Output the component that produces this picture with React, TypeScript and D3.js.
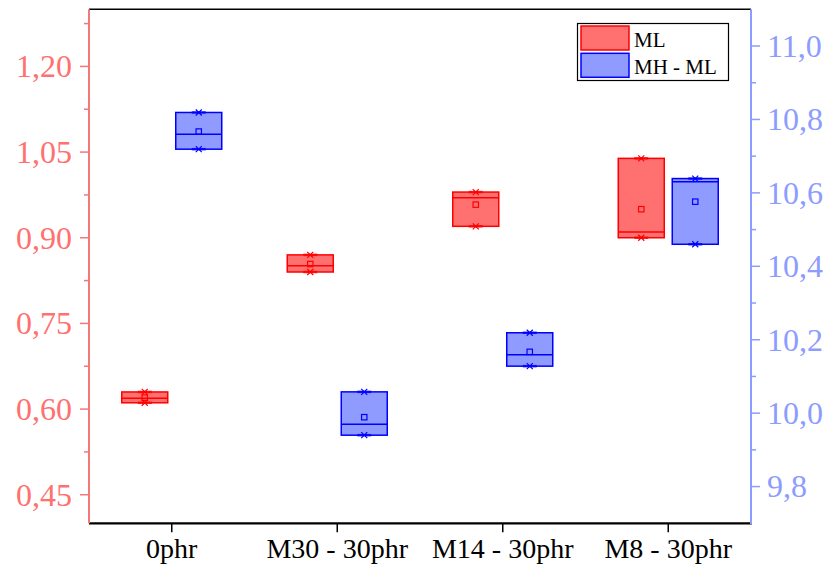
import { useRef, useEffect } from 'react';
import * as d3 from 'd3';

// categories and box statistics
const categories = ['0phr', 'M30 - 30phr', 'M14 - 30phr', 'M8 - 30phr'];

// ML (left axis)
const mlQ1 = [0.611, 0.840, 0.920, 0.900];
const mlMedian = [0.619, 0.851, 0.970, 0.910];
const mlQ3 = [0.630, 0.870, 0.980, 1.039];
const mlMean = [0.620, 0.854, 0.958, 0.950];
const mlMin = [0.611, 0.840, 0.920, 0.900];
const mlMax = [0.630, 0.870, 0.980, 1.039];

// MH - ML (right axis)
const dQ1 = [10.719, 9.940, 10.128, 10.460];
const dMedian = [10.760, 9.970, 10.159, 10.630];
const dQ3 = [10.819, 10.058, 10.219, 10.639];
const dMean = [10.767, 9.989, 10.167, 10.576];
const dMin = [10.719, 9.940, 10.128, 10.460];
const dMax = [10.819, 10.058, 10.219, 10.639];

const leftTicks = [0.45, 0.60, 0.75, 0.90, 1.05, 1.20];
const leftMinor = [0.525, 0.675, 0.825, 0.975, 1.125, 1.275];
const rightTicks = [9.8, 10.0, 10.2, 10.4, 10.6, 10.8, 11.0];
const rightMinor = [9.9, 10.1, 10.3, 10.5, 10.7, 10.9];

const W = 830;
const H = 571;
const FONT = '"Liberation Serif", "Times New Roman", serif';
const LEFT_C = '#FF7070';
const RIGHT_C = '#8C9CFF';

const comma = d3.formatLocale({ decimal: ',', thousands: '.', grouping: [3], currency: ['', ''] });

export default function App() {
  const svgRef = useRef<SVGSVGElement | null>(null);

  useEffect(() => {
    if (!svgRef.current) return;
    const svg = d3.select(svgRef.current);
    svg.selectAll('*').remove();

    const m = { top: 9.3, right: 79, bottom: 47.7, left: 89 };
    const x0 = m.left, x1 = W - m.right;
    const y0 = H - m.bottom, y1 = m.top;

    const x = d3.scaleBand().domain(categories).range([x0, x1]);
    const sub = d3.scaleBand().domain(['ML', 'MH']).range([x.bandwidth() / 2 - 50, x.bandwidth() / 2 + 50]).paddingInner(0.148);
    const yL = d3.scaleLinear().domain([0.40, 1.30]).range([y0, y1]);
    const yR = d3.scaleLinear().domain([9.7, 11.1]).range([y0, y1]);

    const series = [
      { key: 'ML', y: yL, q1: mlQ1, med: mlMedian, q3: mlQ3, mean: mlMean, min: mlMin, max: mlMax, fill: '#FF7070', stroke: '#FF0000' },
      { key: 'MH', y: yR, q1: dQ1, med: dMedian, q3: dQ3, mean: dMean, min: dMin, max: dMax, fill: '#8F9BFF', stroke: '#0000FF' },
    ];

    // boxes
    series.forEach(s => {
      categories.forEach((c, i) => {
        const bx = (x(c) as number) + (sub(s.key) as number);
        const bw = sub.bandwidth();
        const cx = bx + bw / 2;
        const g = svg.append('g');
        g.append('rect')
          .attr('x', bx)
          .attr('y', s.y(s.q3[i]))
          .attr('width', bw)
          .attr('height', s.y(s.q1[i]) - s.y(s.q3[i]))
          .attr('fill', s.fill)
          .attr('stroke', s.stroke)
          .attr('stroke-width', 1.5);
        g.append('line')
          .attr('x1', bx).attr('x2', bx + bw)
          .attr('y1', s.y(s.med[i])).attr('y2', s.y(s.med[i]))
          .attr('stroke', s.stroke).attr('stroke-width', 1.5);
        // min / max dashes and 1%/99% crosses
        [s.min[i], s.max[i]].forEach(v => {
          const yy = s.y(v);
          g.append('line')
            .attr('x1', cx - 7).attr('x2', cx + 7)
            .attr('y1', yy).attr('y2', yy)
            .attr('stroke', s.stroke).attr('stroke-width', 2.5).attr('opacity', 0.8);
          g.append('path')
            .attr('d', `M${cx - 3},${yy - 3}L${cx + 3},${yy + 3}M${cx - 3},${yy + 3}L${cx + 3},${yy - 3}`)
            .attr('stroke', s.stroke).attr('stroke-width', 1.2).attr('fill', 'none');
        });
        // mean
        g.append('rect')
          .attr('x', cx - 2.7).attr('y', s.y(s.mean[i]) - 2.7)
          .attr('width', 5.4).attr('height', 5.4)
          .attr('fill', 'none').attr('stroke', s.stroke).attr('stroke-width', 1.2);
      });
    });

    // frame: top and bottom black
    svg.append('line').attr('x1', x0).attr('x2', x1).attr('y1', y1).attr('y2', y1)
      .attr('stroke', '#000').attr('stroke-width', 1.5);
    svg.append('line').attr('x1', x0).attr('x2', x1 + 1).attr('y1', y0).attr('y2', y0)
      .attr('stroke', '#000').attr('stroke-width', 2.2);

    // bottom axis ticks and labels
    categories.forEach(c => {
      const cx = (x(c) as number) + x.bandwidth() / 2;
      svg.append('line').attr('x1', cx).attr('x2', cx).attr('y1', y0).attr('y2', y0 + 9)
        .attr('stroke', '#000').attr('stroke-width', 1.5);
      svg.append('text')
        .attr('x', cx).attr('y', 558.3)
        .attr('text-anchor', 'middle')
        .attr('font-family', FONT).attr('font-size', 28).attr('fill', '#000')
        .text(c);
    });

    // left axis
    const fmtL = comma.format('.2f');
    svg.append('line').attr('x1', x0).attr('x2', x0).attr('y1', y1).attr('y2', y0)
      .attr('stroke', '#F47878').attr('stroke-width', 2);
    leftTicks.forEach(v => {
      svg.append('line').attr('x1', x0 - 9).attr('x2', x0).attr('y1', yL(v)).attr('y2', yL(v))
        .attr('stroke', '#F47878').attr('stroke-width', 1.5);
      svg.append('text')
        .attr('x', 72).attr('y', yL(v)).attr('dy', '0.34em')
        .attr('text-anchor', 'end')
        .attr('font-family', FONT).attr('font-size', 32).attr('fill', LEFT_C)
        .text(fmtL(v));
    });
    leftMinor.forEach(v => {
      svg.append('line').attr('x1', x0 - 5).attr('x2', x0).attr('y1', yL(v)).attr('y2', yL(v))
        .attr('stroke', '#F47878').attr('stroke-width', 1.5);
    });

    // right axis
    const fmtR = comma.format('.1f');
    svg.append('line').attr('x1', x1).attr('x2', x1).attr('y1', y1).attr('y2', y0 + 1)
      .attr('stroke', RIGHT_C).attr('stroke-width', 2);
    rightTicks.forEach(v => {
      svg.append('line').attr('x1', x1).attr('x2', x1 + 9).attr('y1', yR(v)).attr('y2', yR(v))
        .attr('stroke', RIGHT_C).attr('stroke-width', 1.5);
      svg.append('text')
        .attr('x', 767).attr('y', yR(v)).attr('dy', '0.34em')
        .attr('text-anchor', 'start')
        .attr('font-family', FONT).attr('font-size', 32).attr('fill', RIGHT_C)
        .text(fmtR(v));
    });
    rightMinor.forEach(v => {
      svg.append('line').attr('x1', x1).attr('x2', x1 + 5).attr('y1', yR(v)).attr('y2', yR(v))
        .attr('stroke', RIGHT_C).attr('stroke-width', 1.5);
    });

    // legend
    const lg = svg.append('g');
    lg.append('rect').attr('x', 577.5).attr('y', 23.5).attr('width', 151).attr('height', 57)
      .attr('fill', '#fff').attr('stroke', '#000').attr('stroke-width', 1.2);
    const legendItems = [
      { label: 'ML', fill: '#FF7070', stroke: '#FF0000', y: 26, base: 47.3 },
      { label: 'MH - ML', fill: '#8F9BFF', stroke: '#0000FF', y: 53.3, base: 74 },
    ];
    legendItems.forEach(it => {
      lg.append('rect').attr('x', 581).attr('y', it.y).attr('width', 48).attr('height', 24)
        .attr('fill', it.fill).attr('stroke', it.stroke).attr('stroke-width', 1.5);
      lg.append('text').attr('x', 634).attr('y', it.base)
        .attr('font-family', FONT).attr('font-size', 21).attr('fill', '#000')
        .text(it.label);
    });
  }, []);

  return (
    <svg ref={svgRef} width={W} height={H}
      style={{ position: 'absolute', left: 0, top: 0, background: '#fff' }} />
  );
}
